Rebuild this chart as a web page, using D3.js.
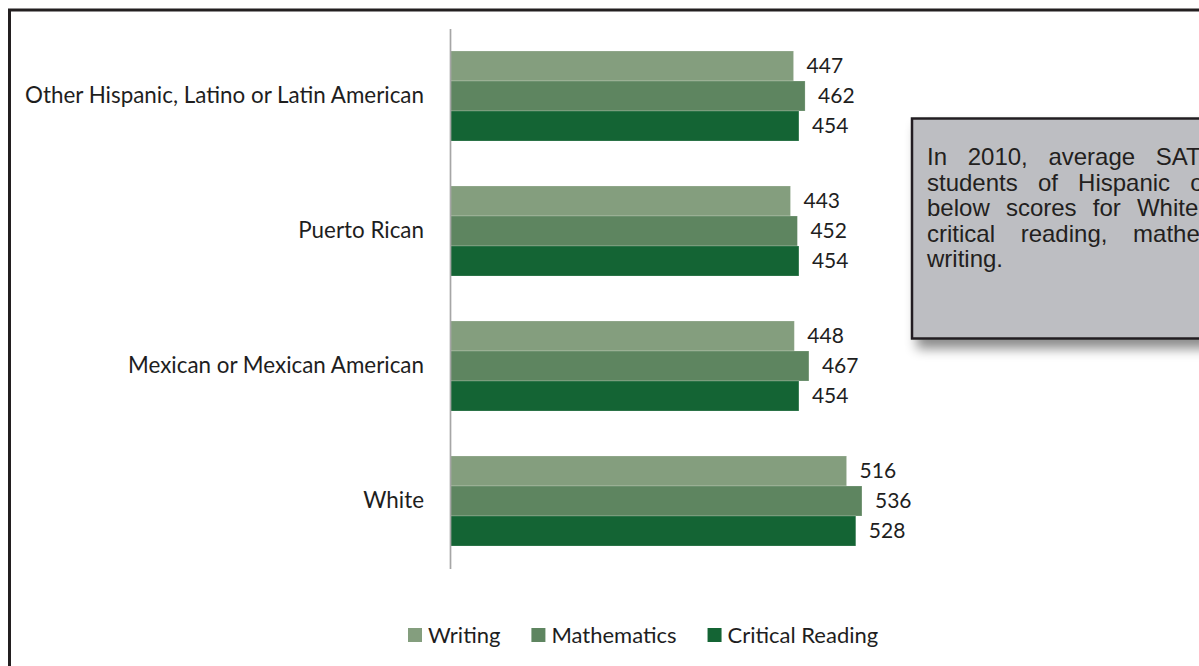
<!DOCTYPE html>
<html>
<head>
<meta charset="utf-8">
<script src="https://cdn.jsdelivr.net/npm/d3@7"></script>
<style>
  html, body { margin: 0; padding: 0; background: #fff; }
  svg { display: block; }
</style>
</head>
<body>
<svg id="chart" width="1199" height="666"></svg>
<script>
// ---- data ----
const categories = [
  "Other Hispanic, Latino or Latin American",
  "Puerto Rican",
  "Mexican or Mexican American",
  "White"
];
const seriesNames = ["Writing", "Mathematics", "Critical Reading"];
const writing = [447, 443, 448, 516];
const mathematics = [462, 452, 467, 536];
const criticalReading = [454, 454, 454, 528];
const seriesColors = ["#849e7e", "#5e8560", "#146434"];
const noteLines = [
  "In 2010, average SAT scores for",
  "students of Hispanic origin were",
  "below scores for White students in",
  "critical reading, mathematics, and",
  "writing."
];
const noteWordSpacing = [14, 13.5, 9.5, 19, 0];

const seriesValues = [writing, mathematics, criticalReading];
const rows = [];
categories.forEach((c, i) => {
  seriesNames.forEach((s, j) => rows.push({ cat: c, series: s, value: seriesValues[j][i], color: seriesColors[j] }));
});

const svg = d3.select("#chart");
const labelFont = "Lato, 'Open Sans', sans-serif";
const textColor = "#1e1e1e";

// outer frame
svg.append("rect")
  .attr("x", 9.5).attr("y", 10).attr("width", 1300).attr("height", 700)
  .attr("fill", "none").attr("stroke", "#231f20").attr("stroke-width", 3);

// scales
const y = d3.scaleBand().domain(categories).range([28.5, 568.5]).paddingInner(1/3).paddingOuter(1/6);
const ySub = d3.scaleBand().domain(seriesNames).range([0, y.bandwidth()]);
const x = d3.scaleLinear().domain([0, 700]).range([450, 988]);

// bars
const g = svg.append("g");
g.selectAll("rect.bar").data(rows).join("rect")
  .attr("class", "bar")
  .attr("x", x(0))
  .attr("y", d => y(d.cat) + ySub(d.series))
  .attr("width", d => x(d.value) - x(0))
  .attr("height", ySub.bandwidth())
  .attr("fill", d => d.color)
  .attr("stroke", "rgba(255,255,255,0.25)")
  .attr("stroke-width", 0.8);

// value labels
g.selectAll("text.val").data(rows).join("text")
  .attr("class", "val")
  .attr("x", d => x(d.value) + 13)
  .attr("y", d => y(d.cat) + ySub(d.series) + ySub.bandwidth() / 2)
  .attr("dy", "0.35em")
  .attr("font-family", labelFont)
  .attr("font-size", 21)
  .attr("fill", textColor)
  .text(d => d.value);

// category axis
const axis = svg.append("g")
  .attr("transform", `translate(${x(0)},0)`)
  .call(d3.axisLeft(y).tickSize(0).tickSizeOuter(0).tickPadding(26));
axis.select(".domain").attr("stroke", "#a6a6a6").attr("stroke-width", 1.7);
axis.selectAll(".tick text")
  .attr("font-family", labelFont)
  .attr("font-size", 22.4)
  .attr("fill", textColor);

// legend
const legend = svg.append("g");
let lx = 408;
seriesNames.forEach((s, j) => {
  legend.append("rect").attr("x", lx).attr("y", 628).attr("width", 14).attr("height", 14).attr("fill", seriesColors[j]);
  const t = legend.append("text")
    .attr("x", lx + 20).attr("y", 635).attr("dy", "0.35em")
    .attr("font-family", labelFont).attr("font-size", 22).attr("fill", textColor)
    .text(s);
  lx += 20 + t.node().getComputedTextLength() + 31;
});

// note box
const defs = svg.append("defs");
const f = defs.append("filter").attr("id", "shadow").attr("x", "-10%").attr("y", "-10%").attr("width", "130%").attr("height", "140%");
f.append("feDropShadow").attr("dx", 6).attr("dy", 9).attr("stdDeviation", 6)
  .attr("flood-color", "#000").attr("flood-opacity", 0.45);

svg.append("rect")
  .attr("x", 912).attr("y", 118.5).attr("width", 500).attr("height", 220)
  .attr("fill", "#bdbec2").attr("stroke", "#231f20").attr("stroke-width", 2.5)
  .attr("filter", "url(#shadow)");

const note = svg.append("g");
noteLines.forEach((line, i) => {
  note.append("text")
    .attr("x", 927).attr("y", 165 + i * 25.5)
    .attr("font-family", "'Liberation Sans', Arial, sans-serif")
    .attr("font-size", 24)
    .attr("word-spacing", noteWordSpacing[i])
    .attr("fill", "#231f20")
    .text(line);
});
</script>
</body>
</html>
